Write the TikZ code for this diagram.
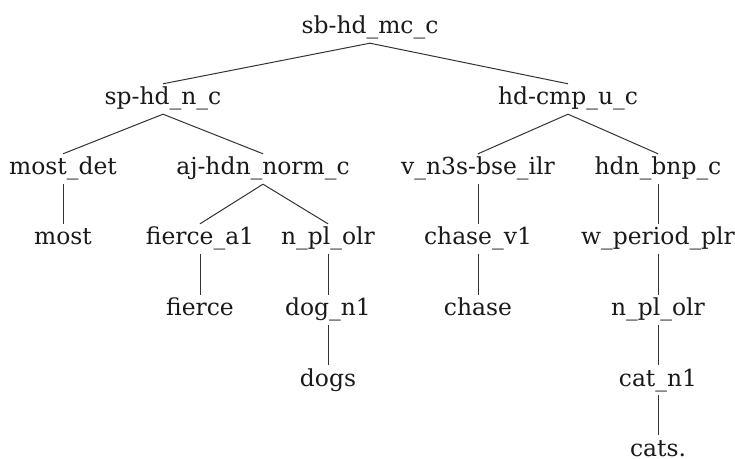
\documentclass[tikz,border=0pt]{standalone}
\usepackage{fontspec}
\setmainfont{DejaVu Serif}
\begin{document}
\begin{tikzpicture}[x=1bp,y=-1bp,
  lbl/.style={font=\fontsize{23.5}{27}\selectfont, text=black!90, inner xsep=0pt, inner ysep=0pt,
    text height=17bp, text depth=5bp, minimum height=30bp},
  edge/.style={draw=black!80, line width=1bp}]
\useasboundingbox (0,0) rectangle (735,459);
\node[lbl] (sb) at (370,28) {sb-hd\_mc\_c};
\node[lbl] (sp) at (163,99) {sp-hd\_n\_c};
\node[lbl] (hdc) at (568,99) {hd-cmp\_u\_c};
\node[lbl] (mdet) at (63,169) {most\_det};
\node[lbl] (aj) at (263,169) {aj-hdn\_norm\_c};
\node[lbl] (vn) at (478,169) {v\_n3s-bse\_ilr};
\node[lbl] (hdn) at (658,169) {hdn\_bnp\_c};
\node[lbl] (most) at (63,239) {most};
\node[lbl] (fa) at (200,239) {fierce\_a1};
\node[lbl] (npl1) at (328,239) {n\_pl\_olr};
\node[lbl] (cv) at (478,239) {chase\_v1};
\node[lbl] (wp) at (658,239) {w\_period\_plr};
\node[lbl] (fierce) at (200,310) {fierce};
\node[lbl] (dog) at (328,310) {dog\_n1};
\node[lbl] (chase) at (478,310) {chase};
\node[lbl] (npl2) at (658,310) {n\_pl\_olr};
\node[lbl] (dogs) at (328,380) {dogs};
\node[lbl] (cat) at (658,380) {cat\_n1};
\node[lbl] (cats) at (658,450) {cats.};
\foreach \a/\b in {sb/sp,sb/hdc,sp/mdet,sp/aj,hdc/vn,hdc/hdn,mdet/most,aj/fa,aj/npl1,
  vn/cv,hdn/wp,fa/fierce,npl1/dog,cv/chase,wp/npl2,dog/dogs,npl2/cat,cat/cats}
  \draw[edge] (\a.south) -- (\b.north);
\end{tikzpicture}
\end{document}
